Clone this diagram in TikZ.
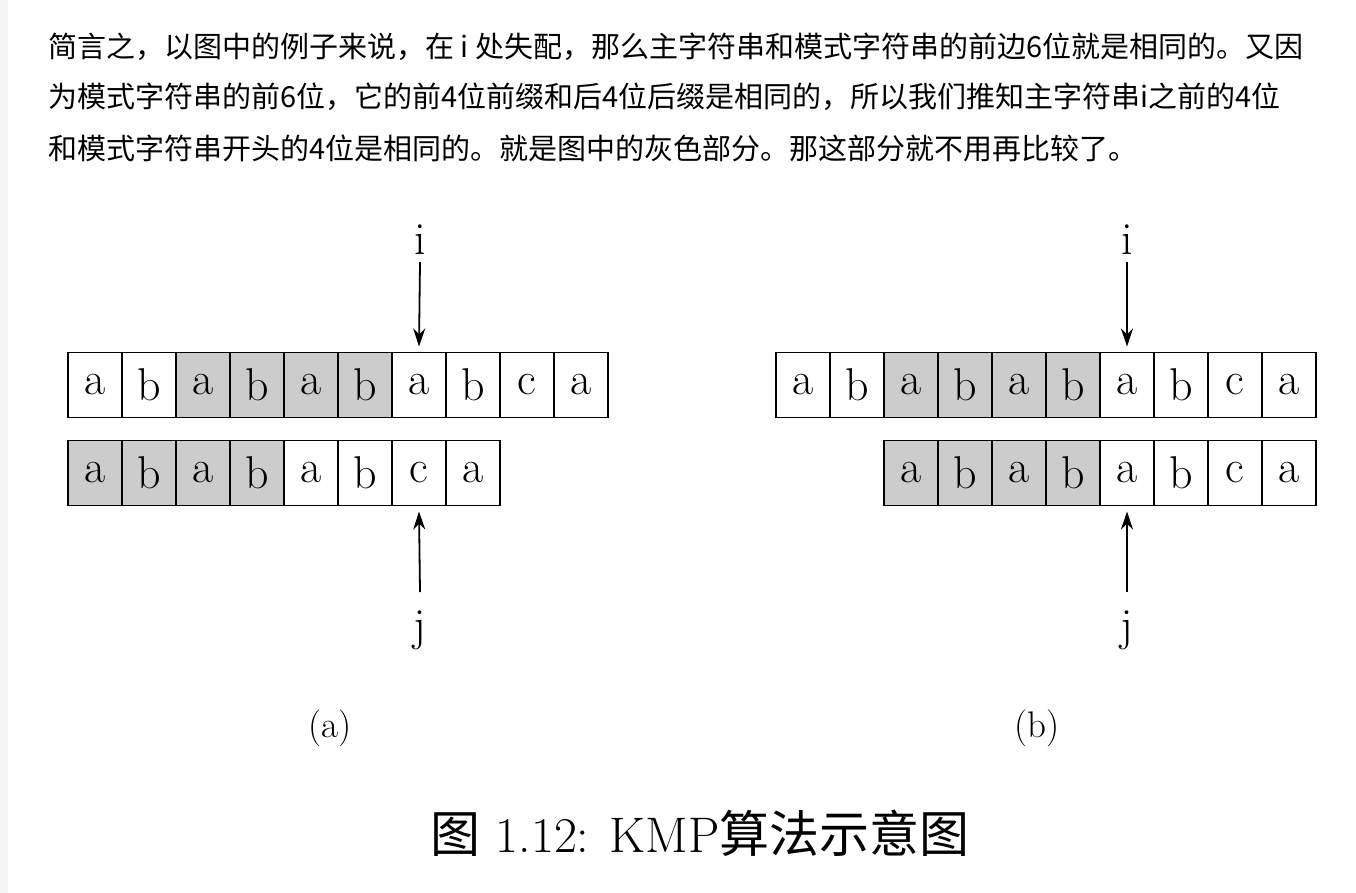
\documentclass[tikz,border=0pt]{standalone}
\usepackage{fontspec}
\usetikzlibrary{arrows.meta}
\newfontfamily\cjk{Noto Sans CJK SC}
\newfontfamily\cjkserif{Noto Sans CJK SC}
\begin{document}
\begin{tikzpicture}[x=1pt,y=-1pt,
  cell/.style={draw=black,line width=1.8pt,minimum width=54pt,minimum height=65pt,inner sep=0pt,outer sep=0pt,font=\fontsize{46}{48}\selectfont},
  hl/.style={fill=gray!40},
  txt/.style={anchor=west,inner sep=0pt,font=\cjk\fontsize{29}{32}\selectfont},
  lab/.style={inner sep=0pt,font=\fontsize{46}{48}\selectfont},
  arr/.style={-{Stealth[length=18pt,width=12pt]},line width=1.8pt}]
\useasboundingbox (0,0) rectangle (1356,893);
\fill[gray!8] (0,0) rectangle (8,893);
\node[txt] (l1) at (48,47) {简言之，以图中的例子来说，在 i 处失配，那么主字符串和模式字符串的前边6位就是相同的。又因};
\node[txt] (l2) at (48,97) {为模式字符串的前6位，它的前4位前缀和后4位后缀是相同的，所以我们推知主字符串i之前的4位};
\node[txt] (l3) at (48,148) {和模式字符串开头的4位是相同的。就是图中的灰色部分。那这部分就不用再比较了。};
\foreach \side/\ox/\px in {L/68/68, R/776/884}{
  \foreach \c [count=\k from 0] in {a,b,a,b,a,b,a,b,c,a}{
    \pgfmathsetmacro\isg{(\k>=2 && \k<=5) ? 1 : 0}
    \ifnum\isg=1
      \node[cell,hl] (\side m\k) at ({\ox+27+54*\k},385) {\c};
    \else
      \node[cell] (\side m\k) at ({\ox+27+54*\k},385) {\c};
    \fi
  }
  \foreach \c [count=\k from 0] in {a,b,a,b,a,b,c,a}{
    \ifnum\k<4
      \node[cell,hl] (\side p\k) at ({\px+27+54*\k},473) {\c};
    \else
      \node[cell] (\side p\k) at ({\px+27+54*\k},473) {\c};
    \fi
  }
}
\node[lab] (Li) at (420,240) {i};
\coordinate (Lit) at (420,262);
\draw[arr] (Lit) -- ([yshift=6pt]Lm6.north);
\node[lab] (Lj) at (420,630) {j};
\coordinate (Ljt) at (420,592);
\draw[arr] (Ljt) -- ([yshift=-6pt]Lp6.south);
\node[lab] (Ri) at (1127,240) {i};
\coordinate (Rit) at (1127,262);
\draw[arr] (Rit) -- ([yshift=6pt]Rm6.north);
\node[lab] (Rj) at (1127,630) {j};
\coordinate (Rjt) at (1127,592);
\draw[arr] (Rjt) -- ([yshift=-6pt]Rp4.south);
\node[inner sep=0pt,font=\fontsize{37}{40}\selectfont] (ca) at (330,728) {(a)};
\node[inner sep=0pt,font=\fontsize{37}{40}\selectfont] (cb) at (1037,728) {(b)};
\node[inner sep=0pt,font=\fontsize{50}{54}\selectfont] (cap) at (700,833) {{\cjkserif 图} 1.12: KMP{\cjkserif 算法示意图}};
\end{tikzpicture}
\end{document}
